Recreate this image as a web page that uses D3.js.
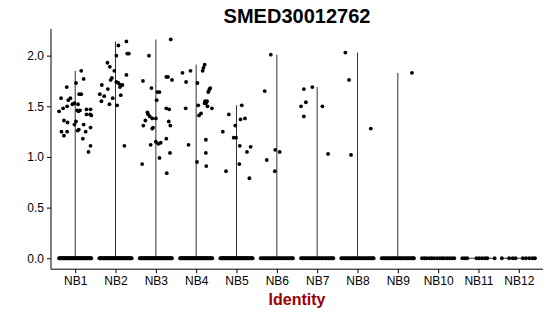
<!DOCTYPE html>
<html>
<head>
<meta charset="utf-8">
<script src="https://cdn.jsdelivr.net/npm/d3@7"></script>
<style>
  body { margin: 0; background: #fff; }
  text { font-family: "Liberation Sans", Arial, sans-serif; }
</style>
</head>
<body>
<div id="chart"></div>
<script>
const categories = ['NB1', 'NB2', 'NB3', 'NB4', 'NB5', 'NB6', 'NB7', 'NB8', 'NB9', 'NB10', 'NB11', 'NB12'];
const yTicks = [0, 0.5, 1, 1.5, 2];

// expressed cells: [jitter offset (fraction of step), value]
const nb1 = [[0.15,1.85],[0.21,1.77],[0.02,1.73],[-0.21,1.69],[0.10,1.62],[0.15,1.62],[-0.35,1.58],[-0.17,1.56],[-0.12,1.58],[-0.20,1.50],[-0.30,1.48],[-0.40,1.45],[-0.07,1.52],[-0.02,1.53],[0.07,1.52],[0.05,1.46],[0.08,1.45],[0.12,1.46],[0.28,1.47],[0.38,1.47],[0.28,1.42],[0.37,1.42],[0.40,1.41],[-0.28,1.36],[-0.19,1.34],[-0.02,1.32],[0.02,1.35],[0.21,1.32],[0.26,1.25],[0.38,1.29],[-0.34,1.25],[-0.20,1.25],[-0.28,1.21],[0.09,1.27],[0.06,1.26],[0.19,1.18],[0.38,1.11],[0.33,1.05]];
const nb2 = [[0.27,2.14],[0.07,2.10],[0.02,2.00],[0.29,2.02],[0.33,2.02],[-0.20,1.93],[-0.14,1.89],[-0.03,1.85],[0.27,1.81],[-0.09,1.78],[-0.12,1.76],[0.02,1.74],[0.07,1.73],[0.12,1.71],[0.17,1.71],[0.11,1.69],[-0.34,1.71],[-0.19,1.67],[-0.39,1.62],[-0.28,1.60],[0.13,1.61],[-0.35,1.55],[-0.07,1.58],[-0.15,1.52],[0.04,1.51],[0.22,1.11]];
const nb3 = [[0.37,2.16],[-0.17,2.00],[0.26,1.79],[0.30,1.79],[0.40,1.76],[-0.32,1.75],[-0.11,1.68],[0.04,1.64],[0.09,1.64],[0.02,1.56],[0.26,1.48],[0.33,1.47],[-0.21,1.44],[-0.19,1.42],[-0.15,1.40],[-0.09,1.38],[0.00,1.38],[-0.26,1.36],[-0.31,1.31],[0.32,1.35],[0.36,1.31],[-0.07,1.29],[-0.09,1.28],[-0.13,1.12],[0.00,1.15],[0.06,1.13],[0.12,1.14],[0.26,1.18],[0.35,1.04],[0.09,0.99],[-0.34,0.93],[0.27,0.84]];
const nb4 = [[0.21,1.91],[0.18,1.88],[0.16,1.85],[-0.14,1.85],[-0.34,1.83],[-0.25,1.74],[0.03,1.73],[0.35,1.68],[0.33,1.67],[0.31,1.65],[0.30,1.64],[0.22,1.55],[0.27,1.55],[0.24,1.53],[0.21,1.53],[0.39,1.48],[0.28,1.50],[0.05,1.51],[0.12,1.43],[0.07,1.41],[-0.26,1.48],[0.24,1.17],[-0.19,1.12],[0.24,1.04],[0.02,0.95],[0.25,0.91]];
const nb5 = [[0.13,1.51],[-0.19,1.42],[0.10,1.37],[0.21,1.38],[-0.03,1.31],[-0.34,1.25],[-0.07,1.19],[-0.01,1.19],[0.08,1.11],[0.35,1.10],[0.26,1.05],[0.07,0.93],[-0.26,0.86],[0.32,0.79]];
const nb6 = [[-0.15,2.01],[-0.30,1.65],[-0.04,1.07],[0.07,1.05],[-0.25,0.97],[-0.05,0.86]];
const nb7 = [[-0.12,1.69],[-0.33,1.67],[-0.28,1.54],[-0.40,1.50],[0.13,1.50],[-0.33,1.40],[0.27,1.03]];
const nb8 = [[-0.30,2.03],[-0.21,1.76],[0.33,1.28],[-0.16,1.02]];
const nb9 = [[0.35,1.83]];
const nb10 = [], nb11 = [], nb12 = [];

// cells at zero: jitter offsets only
const zeroDense = [-0.40,-0.38,-0.36,-0.34,-0.32,-0.30,-0.28,-0.26,-0.24,-0.22,-0.20,-0.18,-0.16,-0.14,-0.12,-0.10,-0.08,-0.06,-0.04,-0.02,0,0.02,0.04,0.06,0.08,0.10,0.12,0.14,0.16,0.18,0.20,0.22,0.24,0.26,0.28,0.30,0.32,0.34,0.36,0.38,0.40];
const zeroMid = [-0.40,-0.37,-0.33,-0.30,-0.26,-0.23,-0.19,-0.15,-0.12,-0.08,-0.05,-0.01,0.03,0.06,0.10,0.13,0.17,0.21,0.24,0.28,0.31,0.35,0.38,0.40];
const zeroNB10 = [-0.40,-0.34,-0.29,-0.22,-0.16,-0.10,-0.03,0.04,0.10,0.15,0.22,0.28,0.34,0.40];
const zeroNB11 = [-0.40,-0.34,-0.28,-0.05,0.02,0.09,0.16,0.22,0.40];
const zeroNB12 = [-0.42,-0.24,-0.15,-0.08,0.10,0.18,0.26,0.34,0.40];

const expressed = [nb1, nb2, nb3, nb4, nb5, nb6, nb7, nb8, nb9, nb10, nb11, nb12];
const zeros = [zeroDense, zeroDense, zeroDense, zeroDense, zeroDense, zeroMid, zeroMid, zeroMid, zeroMid, zeroNB10, zeroNB11, zeroNB12];

function createViolinPlot() {
  const width = 550;
  const height = 316;
  const plot = { left: 51, right: 543, top: 28.9, bottom: 269.2 };

  const svg = d3.select('#chart')
    .append('svg')
    .attr('width', width)
    .attr('height', height);

  const xScale = d3.scalePoint()
    .domain(categories)
    .range([plot.left, plot.right])
    .padding(0.6);
  const step = xScale.step();

  const yScale = d3.scaleLinear()
    .domain([-0.108, 2.264])
    .range([plot.bottom, plot.top]);

  const cells = categories.map((c, i) => ({
    ident: c,
    points: expressed[i].map(([off, v]) => ({ off, v }))
      .concat(zeros[i].map((off) => ({ off, v: 0 }))),
  }));

  // violins: collapsed to a stem up to the max and a base at zero
  const violins = svg.append('g').attr('class', 'violins');
  violins.selectAll('line.stem')
    .data(cells.filter((d) => d3.max(d.points, (p) => p.v) > 0))
    .join('line')
    .attr('class', 'stem')
    .attr('x1', (d) => xScale(d.ident))
    .attr('x2', (d) => xScale(d.ident))
    .attr('y1', yScale(0))
    .attr('y2', (d) => yScale(d3.max(d.points, (p) => p.v)))
    .attr('stroke', '#333')
    .attr('stroke-width', 1);
  violins.selectAll('line.base')
    .data(cells)
    .join('line')
    .attr('class', 'base')
    .attr('x1', (d) => xScale(d.ident) - 0.44 * step)
    .attr('x2', (d) => xScale(d.ident) + 0.44 * step)
    .attr('y1', yScale(0))
    .attr('y2', yScale(0))
    .attr('stroke', '#333')
    .attr('stroke-width', 1);

  // jittered cells
  svg.append('g').attr('class', 'dots')
    .selectAll('circle')
    .data(cells.flatMap((d) => d.points.map((p) => ({ ...p, ident: d.ident }))))
    .join('circle')
    .attr('cx', (d) => xScale(d.ident) + d.off * step)
    .attr('cy', (d) => yScale(d.v))
    .attr('r', 1.9)
    .attr('fill', '#000');

  // axes
  const yAxis = d3.axisLeft(yScale)
    .tickValues(yTicks)
    .tickFormat(d3.format('.1f'))
    .tickSize(4)
    .tickPadding(3);
  const xAxis = d3.axisBottom(xScale)
    .tickSize(4)
    .tickPadding(3);

  const gy = svg.append('g')
    .attr('transform', `translate(${plot.left}, 0)`)
    .call(yAxis);
  gy.select('.domain').attr('d', `M0,${plot.top}V${plot.bottom}`);

  const gx = svg.append('g')
    .attr('transform', `translate(0, ${plot.bottom})`)
    .call(xAxis);
  gx.select('.domain').attr('d', `M${plot.left},0H${plot.right}`);

  svg.selectAll('.tick text')
    .attr('font-size', 12)
    .attr('fill', '#000')
    .style('font-family', '"Liberation Sans", Arial, sans-serif');
  svg.selectAll('.domain, .tick line').attr('stroke', '#000').attr('stroke-width', 1);

  // title and axis label
  svg.append('text')
    .attr('x', (plot.left + plot.right) / 2)
    .attr('y', 23)
    .attr('text-anchor', 'middle')
    .attr('font-size', 20)
    .attr('font-weight', 'bold')
    .text('SMED30012762');

  svg.append('text')
    .attr('x', (plot.left + plot.right) / 2)
    .attr('y', 305)
    .attr('text-anchor', 'middle')
    .attr('font-size', 16)
    .attr('font-weight', 'bold')
    .attr('fill', '#990000')
    .text('Identity');
}

createViolinPlot();
</script>
</body>
</html>
